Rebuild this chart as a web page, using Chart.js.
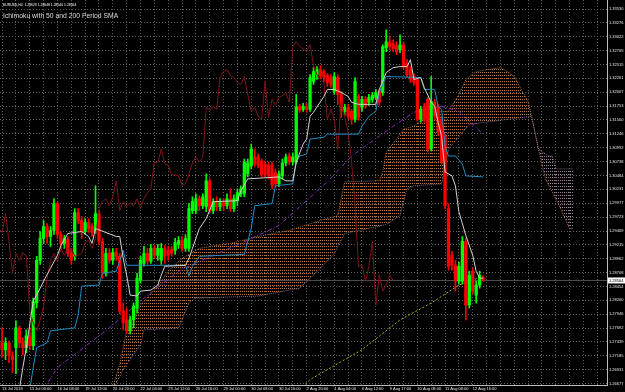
<!DOCTYPE html>
<html>
<head>
<meta charset="UTF-8">
<title>EURUSD H4 - Ichimoku</title>
<script src="https://cdn.jsdelivr.net/npm/chart.js"></script>
<style>
  html, body { margin: 0; padding: 0; background: #000; }
  #chart { display: block; background: #000; }
</style>
</head>
<body>
<canvas id="chart" width="625" height="392"></canvas>
<script>
// header texts
const symbolLine = 'EURUSD,H4  1.28623 1.28648 1.28546 1.28564';
const titleLine = 'Ichimoku with 50 and 200 Period SMA';
const bidPrice = 1.28564;

// price axis labels (as printed on the right)
const priceTicks = [1.33530,1.33276,1.33022,1.32769,1.32515,1.32261,1.32007,1.31753,1.31500,1.31246,
  1.30992,1.30738,1.30484,1.30231,1.29977,1.29723,1.29469,1.29215,1.28962,1.28708,
  1.28454,1.28200,1.27946,1.27692,1.27439,1.27185,1.26931,1.26677];

// time axis labels, one every 8 bars
const timeLabels = ['13 Jul 2018','15 Jul 00:00','16 Jul 08:00','19 Jul 12:00','20 Jul 20:00','22 Jul 04:00',
  '23 Jul 12:00','26 Jul 16:00','29 Jul 00:00','30 Jul 08:00','30 Jul 16:00','2 Aug 20:00',
  '4 Aug 04:00','6 Aug 12:00','9 Aug 17:00','10 Aug 08:00','11 Aug 08:00','12 Aug 16:00'];

// H4 candles, bar 0 .. 139
const O = [1.27425,1.27297,1.27425,1.27188,1.27334,1.27697,1.27425,1.27334,1.27552,1.27370,
  1.28152,1.28933,1.29333,1.29551,1.29369,1.29478,1.29969,1.29405,1.29242,1.29315,
  1.29060,1.29006,1.29805,1.29660,1.29460,1.29623,1.29551,1.29478,1.29787,1.29278,
  1.28697,1.29060,1.28933,1.29078,1.29006,1.28006,1.27843,1.27643,1.27843,1.28061,
  1.28569,1.28878,1.29060,1.28915,1.29151,1.29024,1.28933,1.29151,1.29115,1.29133,
  1.29115,1.29224,1.29296,1.29151,1.29151,1.29842,1.29842,1.30060,1.29932,1.29914,
  1.30387,1.29842,1.30005,1.29914,1.29987,1.29932,1.30060,1.29878,1.30023,1.30150,
  1.30150,1.30514,1.30659,1.30823,1.30823,1.30750,1.30696,1.30677,1.30677,1.30532,
  1.30332,1.30478,1.30714,1.30841,1.30732,1.30732,1.31750,1.31695,1.31750,1.31695,
  1.32204,1.32331,1.32422,1.32386,1.32313,1.32277,1.32022,1.32277,1.31968,1.31659,
  1.31731,1.31659,1.31513,1.31931,1.31731,1.31877,1.31822,1.31877,1.31913,1.32022,
  1.32004,1.32822,1.32931,1.32894,1.32858,1.32785,1.32876,1.32531,1.32422,1.32295,
  1.32240,1.31513,1.31750,1.31877,1.30968,1.31822,1.31750,1.31513,1.31204,1.29878,
  1.29024,1.28842,1.28551,1.28551,1.29278,1.28115,1.28733,1.28297,1.28479,1.28623];
const H = [1.27697,1.27516,1.27461,1.27261,1.27824,1.27734,1.27516,1.27661,1.27697,1.28242,
  1.29006,1.29460,1.29660,1.29605,1.29551,1.30060,1.30005,1.29460,1.29387,1.29369,
  1.29151,1.29878,1.29878,1.29733,1.29696,1.29696,1.29605,1.30296,1.29842,1.29333,
  1.29151,1.29151,1.29151,1.29151,1.29060,1.28152,1.28061,1.27915,1.28152,1.28697,
  1.29006,1.29187,1.29151,1.29224,1.29206,1.29224,1.29242,1.29206,1.29187,1.29187,
  1.29333,1.29369,1.29369,1.29405,1.29969,1.30096,1.30150,1.30114,1.30150,1.30514,
  1.30423,1.30060,1.30096,1.30060,1.30060,1.30150,1.30241,1.30132,1.30241,1.30296,
  1.30786,1.30786,1.31059,1.30968,1.30877,1.30786,1.30750,1.30732,1.30732,1.30605,
  1.30568,1.30786,1.30877,1.30896,1.30896,1.31968,1.31786,1.31804,1.31804,1.32331,
  1.32458,1.32476,1.32495,1.32422,1.32349,1.32331,1.32367,1.32331,1.32022,1.31786,
  1.31786,1.31695,1.32277,1.31968,1.31931,1.31931,1.31968,1.32004,1.32059,1.32059,
  1.32876,1.33149,1.33040,1.32967,1.32931,1.33058,1.32931,1.32604,1.32476,1.32349,
  1.32277,1.31750,1.31804,1.31913,1.32295,1.31877,1.31786,1.31568,1.31241,1.29969,
  1.29096,1.28933,1.28897,1.29369,1.29333,1.28733,1.28788,1.28551,1.28733,1.28648];
const L = [1.27152,1.27116,1.27061,1.26879,1.26861,1.27334,1.27207,1.27243,1.27297,1.27297,
  1.28061,1.28860,1.29242,1.29242,1.29187,1.29405,1.29333,1.29151,1.29151,1.29006,
  1.28860,1.28933,1.29605,1.29333,1.29405,1.29442,1.29369,1.29424,1.29224,1.28606,
  1.28642,1.28878,1.28860,1.28933,1.27952,1.27661,1.27588,1.27588,1.27697,1.27970,
  1.28515,1.28824,1.28860,1.28878,1.28969,1.28933,1.28860,1.28878,1.28933,1.29006,
  1.29042,1.29151,1.29096,1.29096,1.29096,1.29787,1.29787,1.29842,1.29878,1.29823,
  1.29805,1.29787,1.29842,1.29842,1.29842,1.29878,1.29823,1.29823,1.29932,1.30096,
  1.30096,1.30459,1.30605,1.30641,1.30623,1.30459,1.30459,1.30423,1.30241,1.30278,
  1.30278,1.30423,1.30659,1.30677,1.30677,1.30696,1.31641,1.31659,1.31641,1.31659,
  1.32149,1.32240,1.32258,1.32204,1.32113,1.32095,1.31968,1.31786,1.31550,1.31586,
  1.31513,1.31422,1.31459,1.31495,1.31659,1.31713,1.31768,1.31822,1.31877,1.31768,
  1.31949,1.32749,1.32785,1.32749,1.32695,1.32731,1.32440,1.32277,1.32186,1.32131,
  1.31477,1.31459,1.31459,1.30914,1.30932,1.31513,1.31223,1.30696,1.29878,1.28751,
  1.28751,1.28370,1.28497,1.28497,1.27843,1.28061,1.28315,1.28152,1.28424,1.28546];
const C = [1.27297,1.27425,1.27188,1.27116,1.27697,1.27425,1.27334,1.27552,1.27370,1.28188,
  1.28933,1.29333,1.29551,1.29369,1.29478,1.29969,1.29405,1.29242,1.29333,1.29060,
  1.28933,1.29805,1.29660,1.29460,1.29623,1.29514,1.29442,1.29787,1.29278,1.28697,
  1.29060,1.28933,1.29078,1.29006,1.28006,1.27788,1.27643,1.27843,1.28097,1.28606,
  1.28933,1.29060,1.28915,1.29151,1.29024,1.29151,1.29151,1.29006,1.29024,1.29060,
  1.29260,1.29296,1.29151,1.29333,1.29878,1.30005,1.30060,1.29932,1.30096,1.30387,
  1.29842,1.30005,1.29914,1.29987,1.29932,1.30060,1.29878,1.30060,1.30169,1.30241,
  1.30732,1.30714,1.30968,1.30696,1.30677,1.30496,1.30496,1.30478,1.30314,1.30332,
  1.30514,1.30714,1.30823,1.30732,1.30823,1.31731,1.31677,1.31750,1.31695,1.32277,
  1.32386,1.32422,1.32313,1.32277,1.32186,1.32149,1.32295,1.31968,1.31659,1.31731,
  1.31568,1.31513,1.32204,1.31550,1.31877,1.31768,1.31913,1.31949,1.32004,1.31822,
  1.32840,1.32931,1.32840,1.32804,1.32749,1.32876,1.32495,1.32331,1.32240,1.32186,
  1.31513,1.31695,1.31513,1.30968,1.31840,1.31568,1.31277,1.30732,1.29932,1.28824,
  1.28842,1.28551,1.28824,1.29278,1.28115,1.28660,1.28370,1.28479,1.28660,1.28564];

// Tenkan-sen (bar index / value where the line turns)
const tenkanBar = [5,6,7,9,10,12,14,16,17,19,23,25,26,27,33,34,35,36,37,39,40,43,45,46,47,53,54,55,57,59,
  61,68,69,71,80,82,84,85,87,88,89,90,93,94,96,98,100,101,103,108,109,111,113,115,117,118,119,121,122,124,
  125,126,127,128,130,131,132,134,136,137,138,139];
const tenkanVal = [1.26571,1.26970,1.27334,1.28188,1.28297,1.28551,1.28788,1.29024,1.29206,1.29424,
  1.29460,1.29369,1.29242,1.29514,1.29369,1.29369,1.28969,1.28660,1.28297,1.28279,
  1.28370,1.28388,1.28479,1.28660,1.28824,1.28842,1.28969,1.29151,1.29514,1.29696,
  1.30005,1.30023,1.30205,1.30423,1.30459,1.30387,1.30387,1.30732,1.31059,1.31150,
  1.31568,1.31641,1.31931,1.32059,1.32059,1.32004,1.31931,1.31822,1.31786,1.31786,
  1.32059,1.32367,1.32458,1.32476,1.32476,1.32604,1.32240,1.32277,1.32095,1.31822,
  1.31750,1.31459,1.31204,1.30550,1.30478,1.30296,1.29823,1.29387,1.29024,1.28733,
  1.28606,1.28606];

// Kijun-sen
const kijunBar = [8,9,10,13,14,21,22,23,28,29,33,35,36,53,54,55,57,70,72,73,78,79,84,85,86,88,89,93,94,103,
  104,106,108,109,111,121,122,125,126,127,128,129,131,133,134,139];
const kijunVal = [1.26571,1.26970,1.27334,1.27425,1.27643,1.27697,1.27934,1.28460,1.28479,1.28697,
  1.28733,1.29115,1.28842,1.28842,1.28642,1.28824,1.29006,1.29042,1.29514,1.29932,
  1.29969,1.30296,1.30332,1.30732,1.30841,1.30877,1.31150,1.31186,1.31241,1.31241,
  1.31386,1.31568,1.31659,1.32004,1.32295,1.32277,1.32059,1.32059,1.31750,1.31695,
  1.31023,1.30841,1.30841,1.30696,1.30478,1.30459];

// Senkou span A / B (cloud, runs 26 bars ahead)
const spanABar = [31,34,36,38,40,45,48,52,54,57,66,74,83,91,97,99,109,110,111,114,116,119,124,129,132,
  134,137,144,146,148,150,152,153,155,157,160,162,164,165];
const spanAVal = [1.26425,1.27025,1.27643,1.27824,1.28115,1.28460,1.28733,1.28969,1.29042,1.29151,
  1.29242,1.29369,1.29478,1.29642,1.29751,1.30369,1.30387,1.30550,1.30914,1.31150,
  1.31332,1.31386,1.31641,1.31659,1.31968,1.32240,1.32386,1.32458,1.32386,1.32295,
  1.32059,1.31840,1.31568,1.30968,1.30423,1.30060,1.29787,1.29514,1.29514];
const spanBBar = [31,35,38,40,41,51,52,54,56,74,86,92,96,99,111,115,117,119,127,129,135,153,155,158,159,160,165];
const spanBVal = [1.26425,1.26934,1.27207,1.27388,1.27661,1.27697,1.27843,1.28152,1.28242,1.28279,
  1.28424,1.28788,1.29060,1.29424,1.29587,1.29751,1.30241,1.30296,1.30332,1.30968,
  1.31422,1.31568,1.30968,1.30841,1.30841,1.30605,1.30605];

// moving averages
const sma50Bar = [12,16,31,41,51,57,69,80,94,101,113,119,127,132,139];
const sma50Val = [1.26571,1.26970,1.27697,1.28242,1.28733,1.28915,1.29242,1.29569,1.30369,1.30841,
  1.31386,1.31641,1.31750,1.31659,1.31241];
const sma200Bar = [86,89,95,104,115,124,132,139];
const sma200Val = [1.26571,1.26752,1.26970,1.27297,1.27843,1.28152,1.28479,1.28642];

const chikouShift = 26;

// ---- drawing ----
const canvas = document.getElementById('chart');
const ctx = canvas.getContext('2d');

// sparse dot hatch like the terminal's cloud
function dots(color) {
  const tile = document.createElement('canvas');
  tile.width = 2; tile.height = 3;
  const t = tile.getContext('2d');
  t.fillStyle = color;
  t.fillRect(0, 0, 1, 1);
  return ctx.createPattern(tile, 'repeat');
}

const pts = (xs, ys) => xs.map((x, k) => ({x: x, y: ys[k]}));
const idx = O.map((_, i) => i);
const candleColor = idx.map(i => C[i] >= O[i] ? '#00ff00' : '#ff0000');

const lineBase = {type: 'line', pointRadius: 0, borderWidth: 1, tension: 0, fill: false};

const overlay = {
  id: 'overlay',
  beforeDatasetsDraw(chart) {
    const c = chart.ctx, a = chart.chartArea;
    const y = Math.round(chart.scales.y.getPixelForValue(bidPrice)) + 0.5;
    c.save();
    c.strokeStyle = '#4c4c4c';
    c.lineWidth = 1;
    c.beginPath();
    c.moveTo(a.left, y);
    c.lineTo(a.right, y);
    c.stroke();
    c.restore();
  },
  afterDraw(chart) {
    const c = chart.ctx, a = chart.chartArea;
    const y = chart.scales.y.getPixelForValue(bidPrice);
    c.save();
    c.fillStyle = '#ffffff';
    c.fillRect(a.right + 1, y - 3, 17, 6);
    c.fillStyle = '#000000';
    c.font = '4px "Liberation Sans"';
    c.textBaseline = 'middle';
    c.fillText(bidPrice.toFixed(5), a.right + 2, y);
    c.fillStyle = '#ffffff';
    c.textBaseline = 'alphabetic';
    c.font = '3.4px "Liberation Sans"';
    c.fillText(symbolLine, 3, 6);
    c.fillStyle = '#dcdcdc';
    c.font = '6.8px "Liberation Sans"';
    c.fillText(titleLine, 3, 18.3);
    c.restore();
  }
};

new Chart(ctx, {
  type: 'bar',
  data: {
    datasets: [
      Object.assign({}, lineBase, {
        label: 'Senkou A', data: pts(spanABar, spanAVal),
        borderColor: 'rgba(200,125,70,0.8)', borderDash: [1, 1],
        backgroundColor: dots('#c27a42'),
        fill: {target: 1, above: dots('#c27a42'), below: dots('#a6809f')},
        order: 10
      }),
      Object.assign({}, lineBase, {
        label: 'Senkou B', data: pts(spanBBar, spanBVal),
        borderColor: 'rgba(170,135,180,0.75)', borderDash: [1, 1], order: 9
      }),
      Object.assign({}, lineBase, {
        label: 'SMA 200', data: pts(sma200Bar, sma200Val),
        borderColor: '#b4b400', borderDash: [2, 2], order: 8
      }),
      Object.assign({}, lineBase, {
        label: 'SMA 50', data: pts(sma50Bar, sma50Val),
        borderColor: '#8a2cc4', borderDash: [4, 2, 1, 2], order: 8
      }),
      {
        type: 'bar', label: 'wicks',
        data: idx.map(i => ({x: i, y: [L[i], H[i]]})),
        backgroundColor: candleColor, barThickness: 1, grouped: false, order: 6
      },
      {
        type: 'bar', label: 'bodies',
        data: idx.map(i => ({x: i, y: [O[i], C[i]]})),
        backgroundColor: candleColor, barThickness: 2.6, minBarLength: 1, grouped: false, order: 5
      },
      Object.assign({}, lineBase, {
        label: 'Chikou', data: C.map((c, i) => ({x: i - chikouShift, y: c})),
        borderColor: '#7e1616', order: 4
      }),
      Object.assign({}, lineBase, {
        label: 'Kijun', data: pts(kijunBar, kijunVal),
        borderColor: '#1f8ec4', order: 3
      }),
      Object.assign({}, lineBase, {
        label: 'Tenkan', data: pts(tenkanBar, tenkanVal),
        borderColor: '#d2d2d2', order: 2
      })
    ]
  },
  options: {
    responsive: false,
    animation: false,
    events: [],
    devicePixelRatio: 1,
    layout: {padding: 0},
    plugins: {legend: {display: false}, tooltip: {enabled: false}, title: {display: false}},
    scales: {
      x: {
        type: 'linear', min: -0.6, max: 174.8, offset: false,
        afterBuildTicks: s => { s.ticks = []; for (let v = 0; v <= 172; v += 4) s.ticks.push({value: v}); },
        afterFit: s => { s.height = 7; s.paddingLeft = 0; s.paddingRight = 0; },
        ticks: {
          autoSkip: false, maxRotation: 0, minRotation: 0, align: 'start', padding: 1,
          color: '#e6e6e6', font: {family: 'Liberation Sans', size: 4},
          callback: v => (v % 8 === 0 ? (timeLabels[v / 8] || '') : '')
        },
        grid: {color: '#5e5e5e', drawTicks: false, offset: false},
        border: {display: true, color: '#bdbdbd', width: 1, dash: [1, 2]}
      },
      y: {
        type: 'linear', position: 'right', min: 1.26652, max: 1.33695,
        afterBuildTicks: s => { s.ticks = priceTicks.map(v => ({value: v})); },
        afterFit: s => { s.width = 18; s.paddingTop = 0; s.paddingBottom = 0; },
        ticks: {
          padding: 2, color: '#e6e6e6', font: {family: 'Liberation Sans', size: 4},
          callback: v => v.toFixed(5)
        },
        grid: {color: '#5e5e5e', drawTicks: false},
        border: {display: true, color: '#bdbdbd', width: 1, dash: [1, 2]}
      }
    }
  },
  plugins: [overlay]
});
</script>
</body>
</html>
